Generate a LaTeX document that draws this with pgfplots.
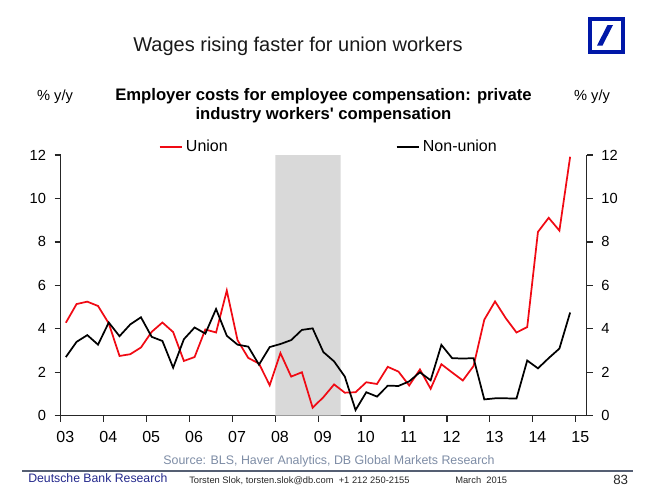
\documentclass[border=0pt]{standalone}
\usepackage{pgfplots}
\pgfplotsset{compat=1.18}
\usepackage{pgfplotstable}
\usepackage{fontspec}
\setmainfont{Liberation Sans}
\definecolor{dbblue}{RGB}{0,24,168}
\definecolor{srcgray}{RGB}{125,140,165}
\definecolor{rulegray}{RGB}{85,95,115}
\definecolor{navy}{RGB}{35,40,140}
\definecolor{shade}{RGB}{217,217,217}
\definecolor{ured}{RGB}{240,10,20}

\pgfplotstableread{
x red black
2003.12 4.28 2.70
2003.37 5.14 3.40
2003.62 5.25 3.71
2003.87 5.05 3.27
2004.12 4.25 4.29
2004.37 2.75 3.66
2004.62 2.83 4.20
2004.87 3.14 4.53
2005.12 3.86 3.63
2005.37 4.29 3.44
2005.62 3.85 2.21
2005.87 2.52 3.52
2006.12 2.70 4.06
2006.37 3.97 3.78
2006.62 3.83 4.91
2006.87 5.76 3.68
2007.12 3.48 3.27
2007.37 2.66 3.18
2007.62 2.40 2.35
2007.87 1.40 3.16
2008.12 2.88 3.30
2008.37 1.80 3.48
2008.62 2.00 3.95
2008.87 0.37 4.02
2009.12 0.85 2.93
2009.37 1.44 2.50
2009.62 1.06 1.80
2009.87 1.08 0.26
2010.12 1.54 1.08
2010.37 1.46 0.88
2010.62 2.25 1.38
2010.87 2.03 1.37
2011.12 1.39 1.58
2011.37 2.13 2.00
2011.62 1.24 1.63
2011.87 2.37 3.26
2012.12 1.99 2.65
2012.37 1.62 2.63
2012.62 2.29 2.65
2012.87 4.42 0.75
2013.12 5.26 0.80
2013.37 4.49 0.80
2013.62 3.83 0.79
2013.87 4.08 2.54
2014.12 8.46 2.18
2014.37 9.11 2.65
2014.62 8.52 3.09
2014.87 11.92 4.75
}\wagedata

\begin{document}
\begin{tikzpicture}[x=0.75pt,y=-0.75pt]
\path (0,0) rectangle (667,500);

\begin{axis}[
  at={(45.525pt,-311.775pt)}, anchor=south west,
  scale only axis, width=394.5pt, height=195.525pt,
  xmin=2003, xmax=2015.256, ymin=0, ymax=12,
  axis x line*=bottom, axis y line*=left,
  tick align=outside,
  major tick length=4.5pt,
  xtick={2003,...,2015},
  xticklabels={03,04,05,06,07,08,09,10,11,12,13,14,15},
  ytick={0,2,4,6,8,10,12},
  /pgf/number format/assume math mode=true,
  x tick label style={font=\fontsize{12}{14}\selectfont, yshift=-4pt, xshift=3.5pt},
  y tick label style={font=\fontsize{11}{13}\selectfont, xshift=-3pt},
  axis line style={line width=0.9pt, black!85},
  tick style={line width=0.9pt, black!85},
  clip=false,
  legend style={draw=none, fill=none, inner sep=0pt,
    at={(0.186,1.032)}, anchor=west,
    legend columns=2,
    font=\fontsize{12}{14}\selectfont,
    /tikz/every even column/.append style={column sep=124pt}},
  legend cell align=left,
]
\addplot[fill=shade, draw=none, forget plot] coordinates {(2008,0) (2008,12) (2009.52,12) (2009.52,0)} \closedcycle;
\addplot[ured, line width=1.3pt] table[x=x, y=red] {\wagedata};
\addlegendentry{Union}
\addplot[black, line width=1.3pt] table[x=x, y=black] {\wagedata};
\addlegendentry{Non-union}
\end{axis}

\begin{axis}[
  at={(45.525pt,-311.775pt)}, anchor=south west,
  scale only axis, width=394.5pt, height=195.525pt,
  xmin=2003, xmax=2015.256, ymin=0, ymax=12,
  axis x line=none, axis y line*=right,
  tick align=outside,
  major tick length=4.5pt,
  ytick={0,2,4,6,8,10,12},
  /pgf/number format/assume math mode=true,
  y tick label style={font=\fontsize{11}{13}\selectfont, xshift=3pt},
  axis line style={line width=0.9pt, black!85},
  tick style={line width=0.9pt, black!85},
]
\end{axis}

% titles
\node[anchor=base, font=\fontsize{15}{18}\selectfont, text=black!90] at (298,51) {Wages rising faster for union workers};
\node[anchor=base, font=\bfseries\fontsize{12.5}{15}\selectfont] at (323.5,100) {Employer costs for employee compensation: private};
\node[anchor=base, font=\bfseries\fontsize{12.5}{15}\selectfont] at (323.5,119) {industry workers\textquotesingle\ compensation};
\node[anchor=base, font=\fontsize{11}{13}\selectfont] at (55,100) {\% y/y};
\node[anchor=base, font=\fontsize{11}{13}\selectfont] at (592,100) {\% y/y};

% logo
\fill[dbblue] (588,17) rectangle (625,54);
\fill[white] (592,21) rectangle (621,50);
\fill[dbblue] (597,45.5) -- (602.5,45.5) -- (613,25) -- (607.5,25) -- cycle;

% footer
\node[anchor=base, font=\fontsize{9.3}{11}\selectfont, text=srcgray] at (329,464) {Source: BLS, Haver Analytics, DB Global Markets Research};
\draw[rulegray, line width=1.5pt] (22,470.5) -- (633,470.5);
\node[anchor=base west, inner sep=0pt, font=\fontsize{9.2}{11}\selectfont, text=navy] at (28,482) {Deutsche Bank Research};
\node[anchor=base west, inner sep=0pt, font=\fontsize{7}{8}\selectfont, text=black!85] at (189,483) {Torsten Slok, torsten.slok@db.com\ \ +1 212 250-2155};
\node[anchor=base west, inner sep=0pt, font=\fontsize{7}{8}\selectfont, text=black!85] at (455,483) {March\ \ 2015};
\node[anchor=base west, inner sep=0pt, font=\fontsize{10}{12}\selectfont, text=black!85] at (613,484) {83};
\end{tikzpicture}
\end{document}
